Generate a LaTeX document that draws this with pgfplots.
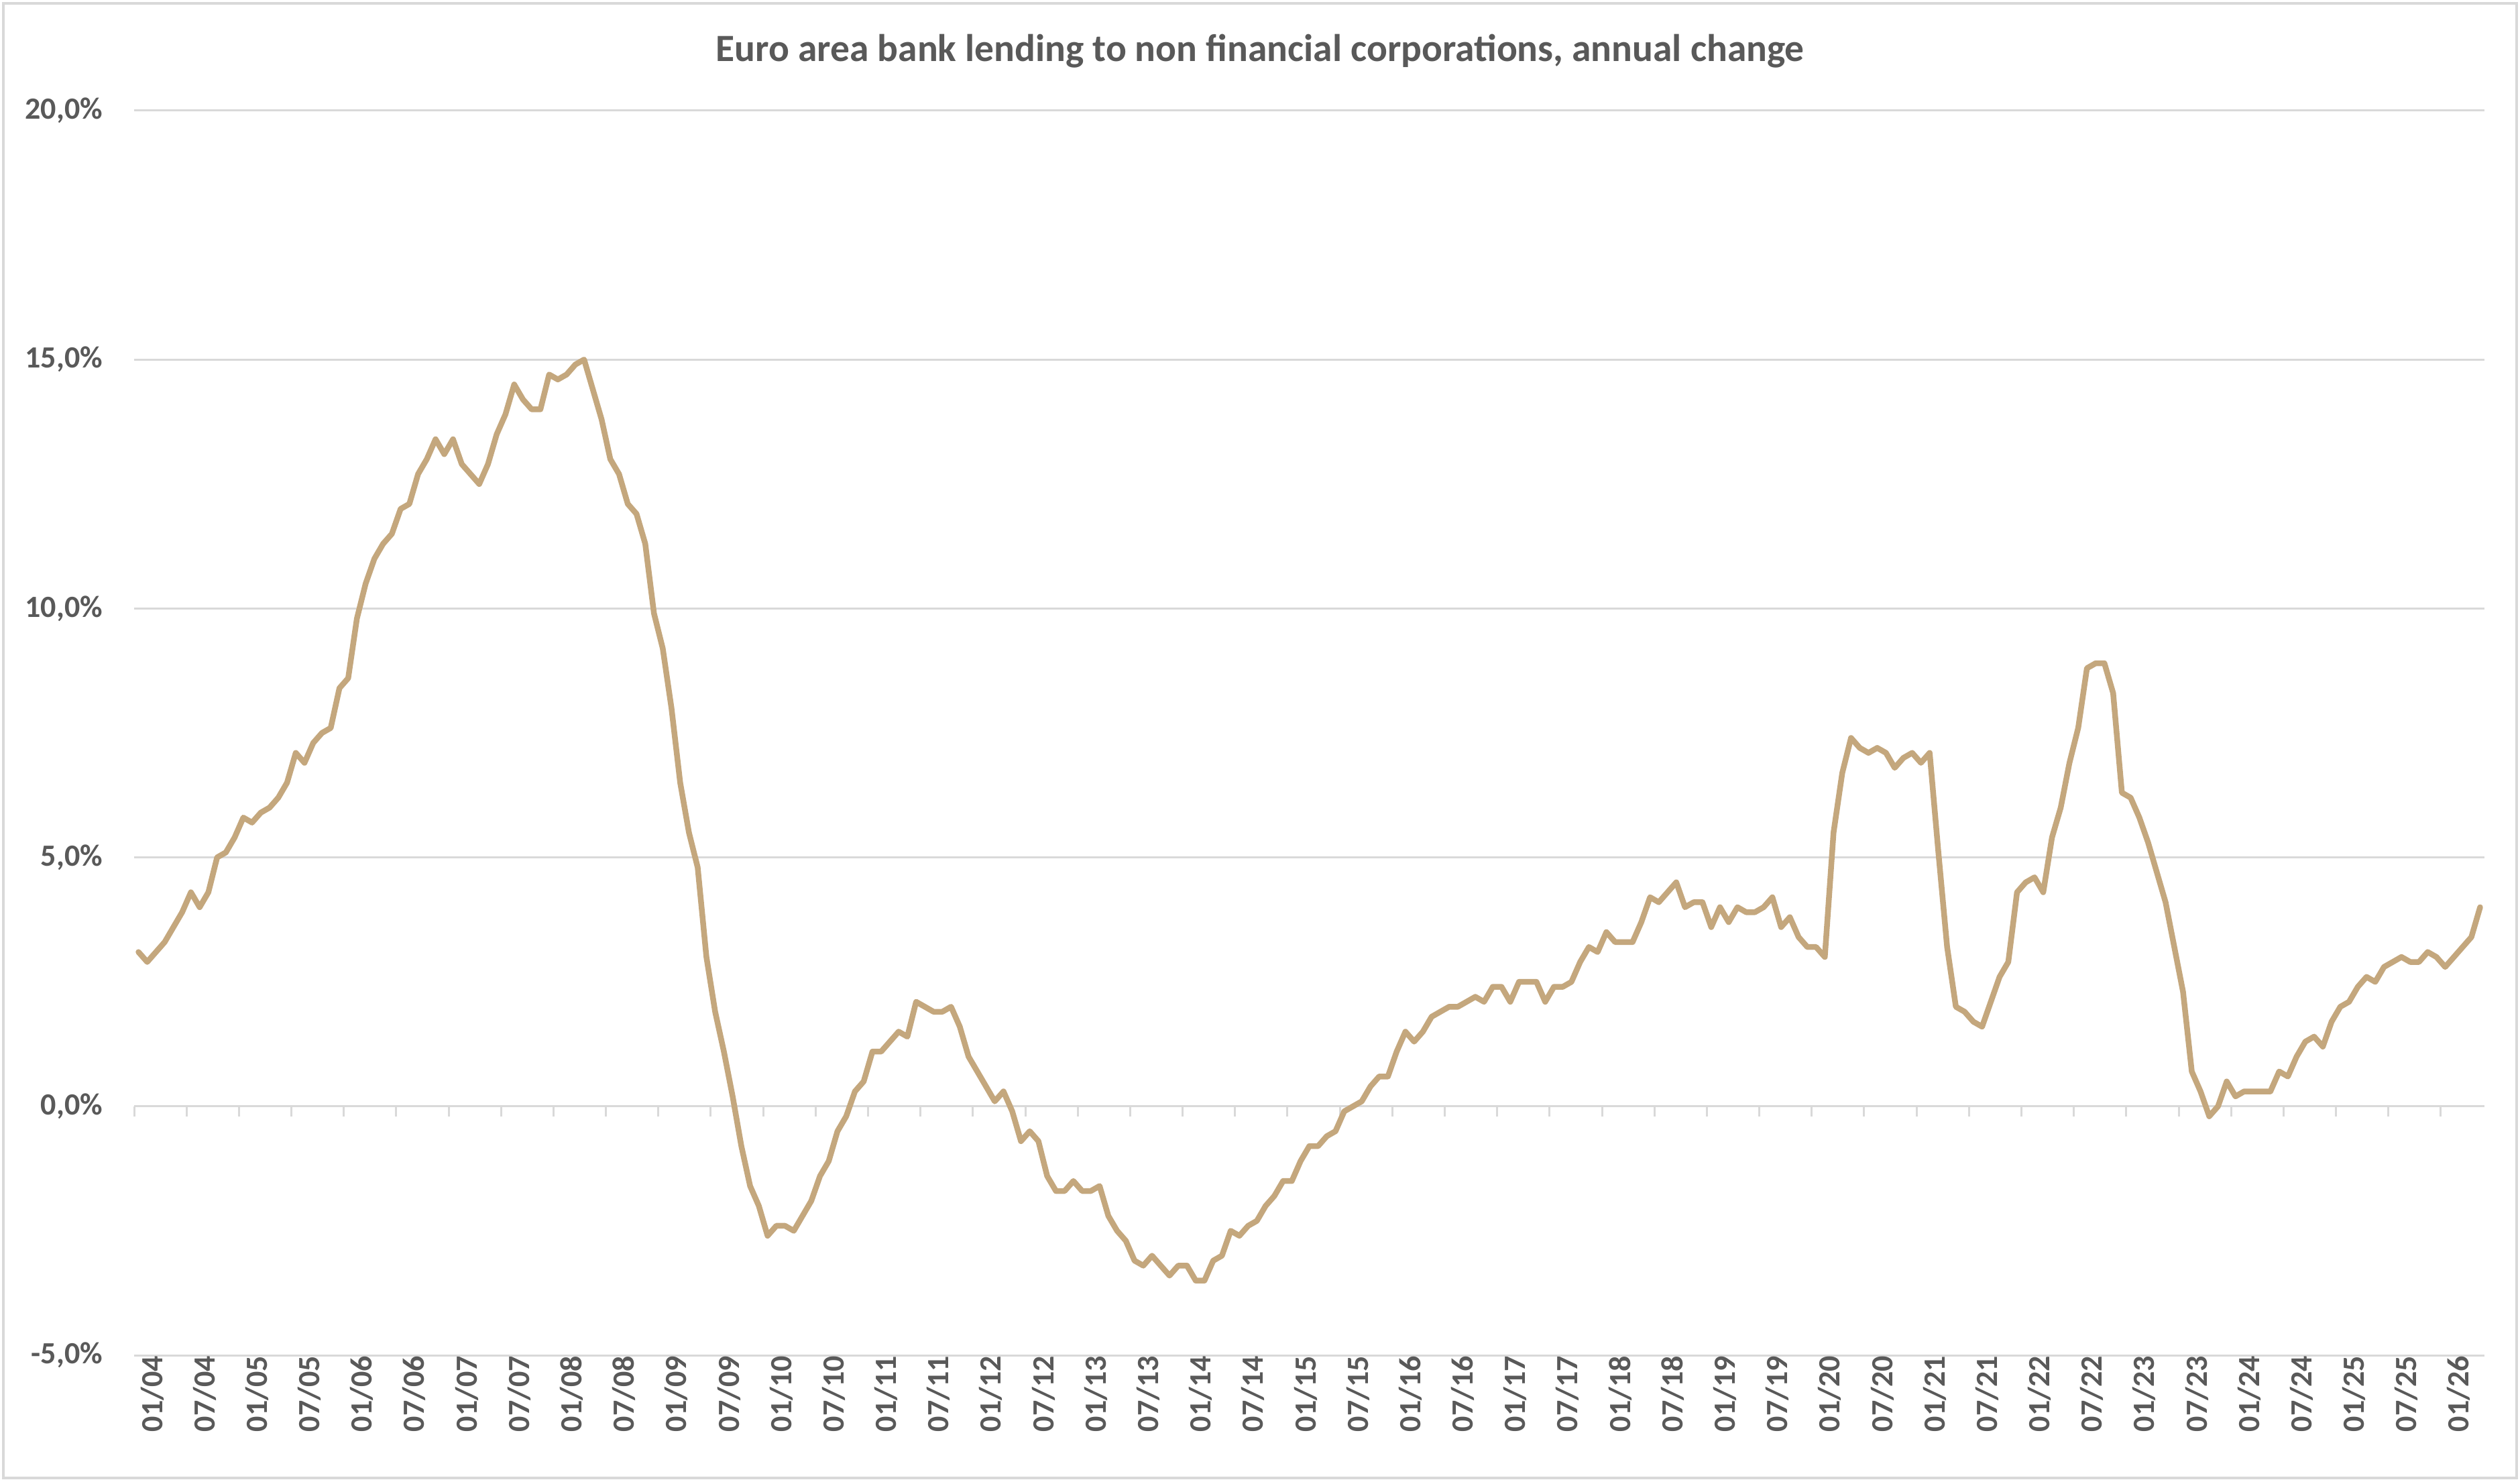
\documentclass[border=0pt]{standalone}
\usepackage{pgfplots}
\pgfplotsset{compat=1.18}
\usepackage{pgfplotstable}
\usepackage{fontspec}
\setmainfont{Carlito}
\definecolor{linec}{RGB}{196,167,125}
\definecolor{gridc}{RGB}{217,217,217}
\definecolor{txtc}{RGB}{89,89,89}

\pgfplotstableread{
v
3.1
2.9
3.1
3.3
3.6
3.9
4.3
4.0
4.3
5.0
5.1
5.4
5.8
5.7
5.9
6.0
6.2
6.5
7.1
6.9
7.3
7.5
7.6
8.4
8.6
9.8
10.5
11.0
11.3
11.5
12.0
12.1
12.7
13.0
13.4
13.1
13.4
12.9
12.7
12.5
12.9
13.5
13.9
14.5
14.2
14.0
14.0
14.7
14.6
14.7
14.9
15.0
14.4
13.8
13.0
12.7
12.1
11.9
11.3
9.9
9.2
8.0
6.5
5.5
4.8
3.0
1.9
1.1
0.2
-0.8
-1.6
-2.0
-2.6
-2.4
-2.4
-2.5
-2.2
-1.9
-1.4
-1.1
-0.5
-0.2
0.3
0.5
1.1
1.1
1.3
1.5
1.4
2.1
2.0
1.9
1.9
2.0
1.6
1.0
0.7
0.4
0.1
0.3
-0.1
-0.7
-0.5
-0.7
-1.4
-1.7
-1.7
-1.5
-1.7
-1.7
-1.6
-2.2
-2.5
-2.7
-3.1
-3.2
-3.0
-3.2
-3.4
-3.2
-3.2
-3.5
-3.5
-3.1
-3.0
-2.5
-2.6
-2.4
-2.3
-2.0
-1.8
-1.5
-1.5
-1.1
-0.8
-0.8
-0.6
-0.5
-0.1
0.0
0.1
0.4
0.6
0.6
1.1
1.5
1.3
1.5
1.8
1.9
2.0
2.0
2.1
2.2
2.1
2.4
2.4
2.1
2.5
2.5
2.5
2.1
2.4
2.4
2.5
2.9
3.2
3.1
3.5
3.3
3.3
3.3
3.7
4.2
4.1
4.3
4.5
4.0
4.1
4.1
3.6
4.0
3.7
4.0
3.9
3.9
4.0
4.2
3.6
3.8
3.4
3.2
3.2
3.0
5.5
6.7
7.4
7.2
7.1
7.2
7.1
6.8
7.0
7.1
6.9
7.1
5.1
3.2
2.0
1.9
1.7
1.6
2.1
2.6
2.9
4.3
4.5
4.6
4.3
5.4
6.0
6.9
7.6
8.8
8.9
8.9
8.3
6.3
6.2
5.8
5.3
4.7
4.1
3.2
2.3
0.7
0.3
-0.2
0.0
0.5
0.2
0.3
0.3
0.3
0.3
0.7
0.6
1.0
1.3
1.4
1.2
1.7
2.0
2.1
2.4
2.6
2.5
2.8
2.9
3.0
2.9
2.9
3.1
3.0
2.8
3.0
3.2
3.4
4.0
}\loandata

\begin{document}
\begin{tikzpicture}[x=1pt,y=1pt]
\useasboundingbox (0,0) rectangle (751.6,441.8);
\fill[white] (0,0) rectangle (751.6,441.8);
\draw[gridc, line width=0.7pt] (1,1) rectangle (750.6,440.8);
\node[anchor=base, font=\bfseries\fontsize{11.5}{13}\selectfont, text=txtc, inner sep=0pt] at (375.8,423.4) {Euro area bank lending to non financial corporations, annual change};
\begin{axis}[at={(40pt,37.6pt)}, anchor=south west, scale only axis,
  width=701pt, height=371.2pt,
  xmin=0, xmax=269, ymin=-5, ymax=20,
  axis line style={draw=none},
  major tick length=0pt,
  ytick={-5,0,5,10,15,20},
  yticklabels={{-5,0\%},{0,0\%},{5,0\%},{10,0\%},{15,0\%},{20,0\%}},
  xtick={0,6,...,264},
  xticklabels={01/04,07/04,01/05,07/05,01/06,07/06,01/07,07/07,01/08,07/08,01/09,07/09,01/10,07/10,01/11,07/11,01/12,07/12,01/13,07/13,01/14,07/14,01/15,07/15,01/16,07/16,01/17,07/17,01/18,07/18,01/19,07/19,01/20,07/20,01/21,07/21,01/22,07/22,01/23,07/23,01/24,07/24,01/25,07/25,01/26},
  ymajorgrids,
  grid style={gridc, line width=0.6pt},
  yticklabel style={anchor=east, inner sep=0pt, xshift=-9.2pt, font=\bfseries\fontsize{9.2}{11}\selectfont, text=txtc},
  xticklabel style={rotate=90, anchor=east, inner sep=0pt, yshift=-5.4pt, font=\bfseries\fontsize{9.2}{11}\selectfont, text=txtc},
  clip=false,
]
\pgfplotsinvokeforeach{0,6,...,264}{\draw[gridc, line width=0.6pt] (axis cs:#1,0) -- ([yshift=-3pt]axis cs:#1,0);}
\addplot[linec, line width=1.7pt, line join=round, line cap=round, mark=none] table[x expr=\coordindex+0.5, y=v] {\loandata};
\end{axis}
\end{tikzpicture}
\end{document}
